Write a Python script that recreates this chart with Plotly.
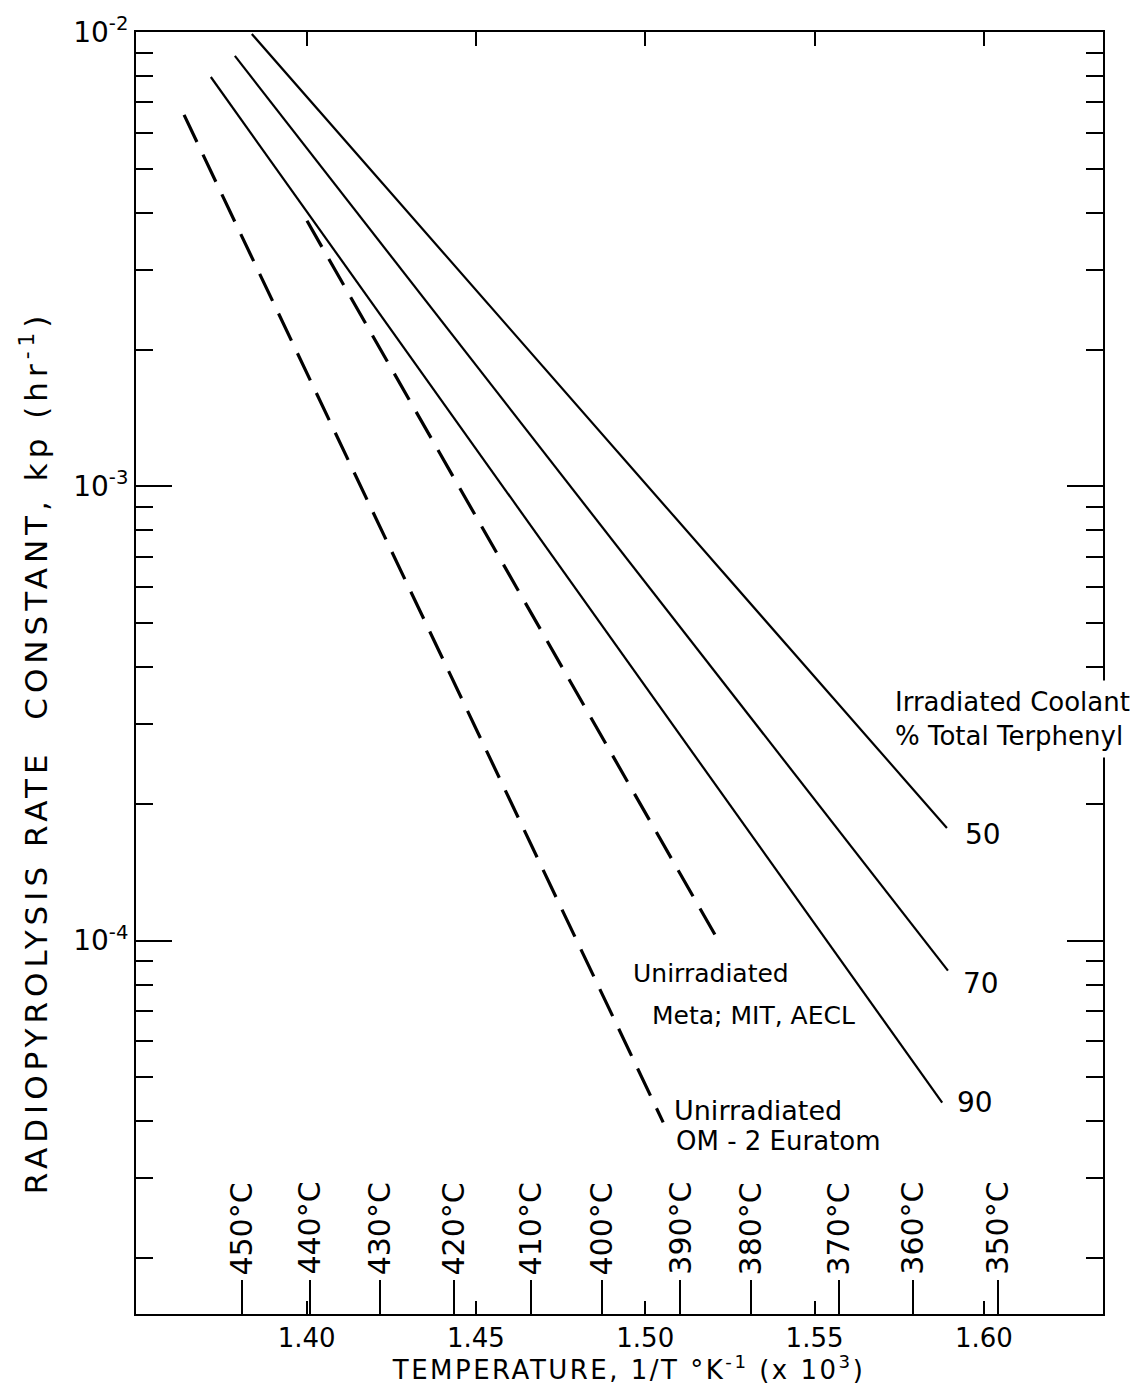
import plotly.graph_objects as go

# ---------------- data ----------------
# 1/T (x10^3, K^-1) and kp (hr^-1) end points of each straight line
x_50 = [1.3838, 1.5891]
y_50 = [9.9e-3, 1.77e-4]
x_70 = [1.3788, 1.5894]
y_70 = [8.86e-3, 8.59e-5]
x_90 = [1.3717, 1.5877]
y_90 = [7.96e-3, 4.40e-5]
x_meta = [1.4001, 1.5221]
y_meta = [3.84e-3, 9.85e-5]
x_eur = [1.3638, 1.5053]
y_eur = [6.57e-3, 3.98e-5]

x_tick_vals = [1.40, 1.45, 1.50, 1.55, 1.60]
x_tick_text = ["1.40", "1.45", "1.50", "1.55", "1.60"]

temp_labels = ["450°C", "440°C", "430°C", "420°C", "410°C", "400°C",
               "390°C", "380°C", "370°C", "360°C", "350°C"]
temp_pos = [1.3809, 1.4010, 1.4216, 1.4435, 1.4662, 1.4872,
            1.5103, 1.5312, 1.5572, 1.5791, 1.6042]

y_major = [1e-4, 1e-3, 1e-2]
y_major_text = ["10<sup>-4</sup>", "10<sup>-3</sup>", "10<sup>-2</sup>"]
y_minor = [m * 10.0 ** e for e in (-5, -4, -3) for m in range(2, 10)]

# ---------------- layout geometry ----------------
W, H = 1143, 1389
L, R, T, B = 136, 1103, 29, 1314
FONT = "DejaVu Sans"


def px(xp):
    return (xp - L) / (R - L)


def py(yp):
    return (B - yp) / (B - T)


fig = go.Figure()

solid = dict(color="black", width=2.2)
dashed = dict(color="black", width=3.2, dash="30px,14px")

fig.add_trace(go.Scatter(x=x_50, y=y_50, mode="lines", line=solid, name="50"))
fig.add_trace(go.Scatter(x=x_70, y=y_70, mode="lines", line=solid, name="70"))
fig.add_trace(go.Scatter(x=x_90, y=y_90, mode="lines", line=solid, name="90"))
fig.add_trace(go.Scatter(x=x_meta, y=y_meta, mode="lines", line=dashed,
                         name="Unirradiated Meta; MIT, AECL"))
fig.add_trace(go.Scatter(x=x_eur, y=y_eur, mode="lines", line=dashed,
                         name="Unirradiated OM-2 Euratom"))

xr = [1.3496, 1.6352]
yr = [-4.822, -2.0]

fig.update_layout(
    width=W, height=H,
    margin=dict(l=L, r=W - R, t=T, b=H - B),
    paper_bgcolor="white", plot_bgcolor="white",
    showlegend=False,
    font=dict(family=FONT, color="black", size=24),
    xaxis=dict(
        range=xr, showgrid=False, zeroline=False,
        showline=True, linecolor="black", linewidth=2, mirror=True,
        tickmode="array", tickvals=x_tick_vals, ticktext=x_tick_text,
        ticks="inside", ticklen=13, tickwidth=2, tickcolor="black",
        tickfont=dict(family=FONT, size=26),
    ),
    xaxis2=dict(
        range=xr, overlaying="x", anchor="y", side="bottom",
        showgrid=False, zeroline=False, showline=False,
        tickmode="array", tickvals=temp_pos,
        ticks="inside", ticklen=34, tickwidth=2, tickcolor="black",
        showticklabels=False,
    ),
    xaxis3=dict(
        range=xr, overlaying="x", anchor="y", side="top",
        showgrid=False, zeroline=False, showline=False,
        tickmode="array", tickvals=x_tick_vals,
        ticks="inside", ticklen=14, tickwidth=2, tickcolor="black",
        showticklabels=False,
    ),
    yaxis=dict(
        type="log", range=yr, showgrid=False, zeroline=False,
        showline=True, linecolor="black", linewidth=2, mirror=True,
        tickmode="array", tickvals=y_major, ticktext=y_major_text,
        ticks="inside", ticklen=36, tickwidth=2, tickcolor="black",
        tickfont=dict(family=FONT, size=28),
        minor=dict(tickmode="array", tickvals=y_minor, ticks="inside",
                   ticklen=17, tickwidth=2, tickcolor="black",
                   showgrid=False),
    ),
    yaxis2=dict(
        type="log", range=yr, overlaying="y", anchor="x", side="right",
        showgrid=False, zeroline=False, showline=False,
        tickmode="array", tickvals=y_major,
        ticks="inside", ticklen=36, tickwidth=2, tickcolor="black",
        showticklabels=False,
        minor=dict(tickmode="array", tickvals=y_minor, ticks="inside",
                   ticklen=17, tickwidth=2, tickcolor="black",
                   showgrid=False),
    ),
)

# invisible helper traces so the auxiliary tick axes are drawn
fig.add_trace(go.Scatter(x=[xr[0]], y=[1e-3], xaxis="x2", yaxis="y2",
                         mode="markers", marker=dict(opacity=0),
                         hoverinfo="skip", showlegend=False))
fig.add_trace(go.Scatter(x=[xr[0]], y=[1e-3], xaxis="x3", yaxis="y",
                         mode="markers", marker=dict(opacity=0),
                         hoverinfo="skip", showlegend=False))

ann = []

# temperature labels (rotated) above their ticks
for lab, pos in zip(temp_labels, temp_pos):
    ann.append(dict(x=pos, xref="x", y=py(1277), yref="paper",
                    text=lab, showarrow=False, textangle=-90,
                    xanchor="center", yanchor="bottom",
                    font=dict(family=FONT, size=30)))

# axis titles
ytitle_index = len(ann)
ann.append(dict(x=px(34), y=py(751), xref="paper", yref="paper",
                text="RADIOPYROLYSIS RATE &nbsp;CONSTANT, kp (hr<sup>-1</sup>)",
                textangle=-90, showarrow=False, xanchor="center", yanchor="middle",
                font=dict(family=FONT, size=31)))
xtitle_index = len(ann)
ann.append(dict(x=px(628), y=py(1368), xref="paper", yref="paper",
                text="TEMPERATURE, 1/T °K<sup>-1</sup> (x 10<sup>3</sup>)",
                showarrow=False, xanchor="center", yanchor="middle",
                font=dict(family=FONT, size=26)))

# curve labels
ann.append(dict(x=px(1012), y=py(718), xref="paper", yref="paper",
                text="Irradiated Coolant<br>% Total Terphenyl",
                showarrow=False, xanchor="center", yanchor="middle",
                align="left", bgcolor="white", borderpad=6,
                font=dict(family=FONT, size=26)))
for lab, (cx, cy) in zip(["50", "70", "90"], [(983, 833), (981, 983), (975, 1102)]):
    ann.append(dict(x=px(cx), y=py(cy), xref="paper", yref="paper", text=lab,
                    showarrow=False, xanchor="center", yanchor="middle",
                    font=dict(family=FONT, size=28)))
ann.append(dict(x=px(711), y=py(973), xref="paper", yref="paper",
                text="Unirradiated", showarrow=False,
                xanchor="center", yanchor="middle", font=dict(family=FONT, size=25)))
ann.append(dict(x=px(753), y=py(1015), xref="paper", yref="paper",
                text="Meta; MIT, AECL", showarrow=False,
                xanchor="center", yanchor="middle", font=dict(family=FONT, size=25)))
ann.append(dict(x=px(758), y=py(1110), xref="paper", yref="paper",
                text="Unirradiated", showarrow=False,
                xanchor="center", yanchor="middle", font=dict(family=FONT, size=27)))
ann.append(dict(x=px(778), y=py(1141), xref="paper", yref="paper",
                text="OM - 2 Euratom", showarrow=False,
                xanchor="center", yanchor="middle", font=dict(family=FONT, size=26)))

fig.update_layout(annotations=ann)

# wider letter spacing on the hand-lettered axis titles (text stays centred)
css = (
    '.annotation[data-index="%d"] text{letter-spacing:5px}'
    '.annotation[data-index="%d"] text{letter-spacing:2.5px}'
    % (ytitle_index, xtitle_index)
)
post_js = (
    "var st=document.createElement('style');"
    "st.textContent='" + css + "';"
    "document.head.appendChild(st);"
)

fig.write_html("out.html", post_script=post_js)
